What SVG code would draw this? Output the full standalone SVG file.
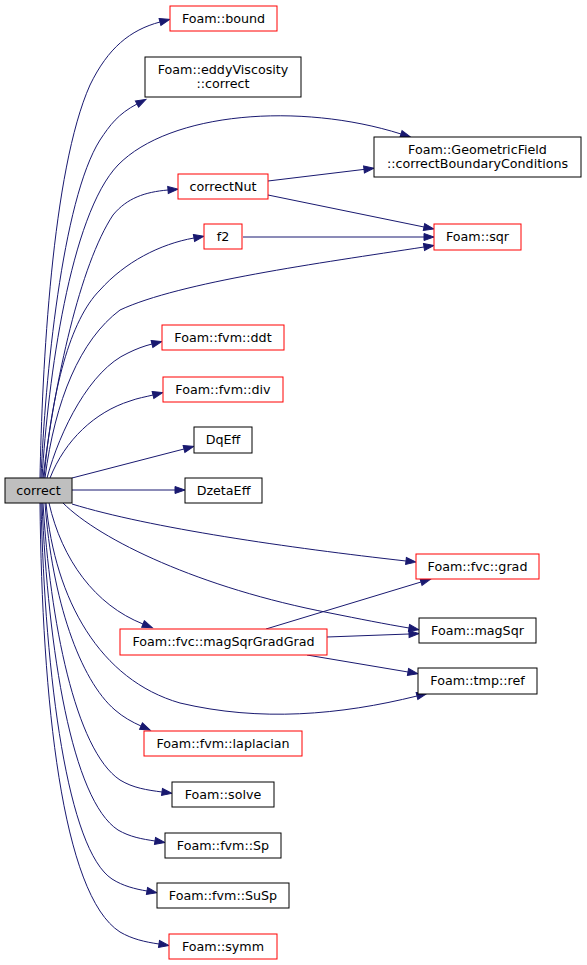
<svg xmlns="http://www.w3.org/2000/svg" width="587" height="965" viewBox="0 0 587 965">
<style>
.n rect{fill:#fff;stroke:#000;stroke-width:1}
.n.r rect{stroke:#ff0000}
.n.g rect{fill:#bfbfbf}
.n text{font-family:"DejaVu Sans",sans-serif;font-size:12.7px;fill:#000;text-anchor:middle}
#edges path{fill:none;stroke:#191970;stroke-width:1;marker-end:url(#ah)}
</style>
<defs>
<marker id="ah" markerUnits="userSpaceOnUse" markerWidth="11" markerHeight="8" refX="0" refY="3.5" orient="auto" overflow="visible">
<path d="M0,0 L10,3.5 L0,7 z" fill="#191970" stroke="#191970" stroke-width="1"/>
</marker>
</defs>
<rect width="587" height="965" fill="#fff"/>
<g id="edges">
<path d="M40,478 C42,370 52,170 90,85 C108,48 130,30 160,22"/>
<path d="M41,478 C45,380 62,200 100,140 C110,125 118,114 137,104"/>
<path d="M42,478 C48,380 70,215 118,165 C170,112 300,102 401,134"/>
<path d="M43,478 C55,380 80,265 113,215 C127,198 145,192 168,190"/>
<path d="M44,478 C52,390 70,320 100,290 C125,262 160,244 194,238"/>
<path d="M45,478 C55,400 80,340 120,310 C180,282 320,263 424,247"/>
<path d="M47,478 C60,430 90,370 128,353 C136,349 144,346 152,344"/>
<path d="M50,478 C65,440 95,412 130,401 C138,398 145,397 153,395"/>
<path d="M72,478 L184,449"/>
<path d="M72,490 L175,490"/>
<path d="M72,504 C150,528 290,548 406,561"/>
<path d="M63,503 C100,540 200,588 330,613 C360,619 385,624 409,628"/>
<path d="M49,503 C62,560 95,605 143,624"/>
<path d="M46,503 C55,600 100,680 180,703 C260,722 340,715 417,696"/>
<path d="M45,503 C52,600 80,680 115,710 C123,717 132,722 141,726"/>
<path d="M43,503 C50,620 75,750 120,780 C133,788 147,790 162,792"/>
<path d="M42,503 C48,650 72,800 118,830 C130,837 142,839 155,841"/>
<path d="M41,503 C45,680 68,850 112,879 C123,886 135,889 147,891"/>
<path d="M40,503 C42,700 62,895 120,932 C132,939 145,942 159,944"/>
<path d="M268,181 L364,169.4"/>
<path d="M268,195 L424,227"/>
<path d="M243,237 L424,237"/>
<path d="M266,629 L421,582"/>
<path d="M327,637 L409,634"/>
<path d="M307,655 L408,672"/>
</g>
<g id="correct" class="n g"><rect x="5" y="478" width="67" height="25"/><text x="38.5" y="494.5">correct</text></g>
<g id="bound" class="n r"><rect x="170" y="6" width="107" height="25"/><text x="223.5" y="22.5">Foam::bound</text></g>
<g id="eddyViscosity_correct" class="n"><rect x="145" y="57" width="156" height="40"/><text x="223" y="74">Foam::eddyViscosity</text><text x="223" y="88">::correct</text></g>
<g id="correctBoundaryConditions" class="n"><rect x="374" y="137" width="207" height="40"/><text x="477.5" y="154">Foam::GeometricField</text><text x="477.5" y="168">::correctBoundaryConditions</text></g>
<g id="correctNut" class="n r"><rect x="178" y="174" width="90" height="25"/><text x="223" y="190.5">correctNut</text></g>
<g id="f2" class="n r"><rect x="204" y="224" width="38" height="25"/><text x="223" y="240.5">f2</text></g>
<g id="sqr" class="n r"><rect x="434" y="224" width="87" height="26"/><text x="477.5" y="241">Foam::sqr</text></g>
<g id="ddt" class="n r"><rect x="162" y="325" width="122" height="25"/><text x="223" y="341.5">Foam::fvm::ddt</text></g>
<g id="div" class="n r"><rect x="163" y="377" width="120" height="25"/><text x="223" y="393.5">Foam::fvm::div</text></g>
<g id="DqEff" class="n"><rect x="194" y="427" width="58" height="26"/><text x="223" y="444">DqEff</text></g>
<g id="DzetaEff" class="n"><rect x="185" y="478" width="77" height="25"/><text x="223.5" y="494.5">DzetaEff</text></g>
<g id="grad" class="n r"><rect x="416" y="554" width="123" height="25"/><text x="477.5" y="570.5">Foam::fvc::grad</text></g>
<g id="magSqr" class="n"><rect x="419" y="618" width="117" height="25"/><text x="477.5" y="634.5">Foam::magSqr</text></g>
<g id="magSqrGradGrad" class="n r"><rect x="120" y="629" width="207" height="26"/><text x="223.5" y="646">Foam::fvc::magSqrGradGrad</text></g>
<g id="tmp_ref" class="n"><rect x="418" y="668" width="119" height="26"/><text x="477.5" y="685">Foam::tmp::ref</text></g>
<g id="laplacian" class="n r"><rect x="144" y="731" width="158" height="25"/><text x="223" y="747.5">Foam::fvm::laplacian</text></g>
<g id="solve" class="n"><rect x="172" y="782" width="102" height="25"/><text x="223" y="798.5">Foam::solve</text></g>
<g id="Sp" class="n"><rect x="165" y="833" width="116" height="25"/><text x="223" y="849.5">Foam::fvm::Sp</text></g>
<g id="SuSp" class="n"><rect x="157" y="883" width="132" height="25"/><text x="223" y="899.5">Foam::fvm::SuSp</text></g>
<g id="symm" class="n r"><rect x="169" y="934" width="108" height="25"/><text x="223" y="950.5">Foam::symm</text></g>
</svg>
